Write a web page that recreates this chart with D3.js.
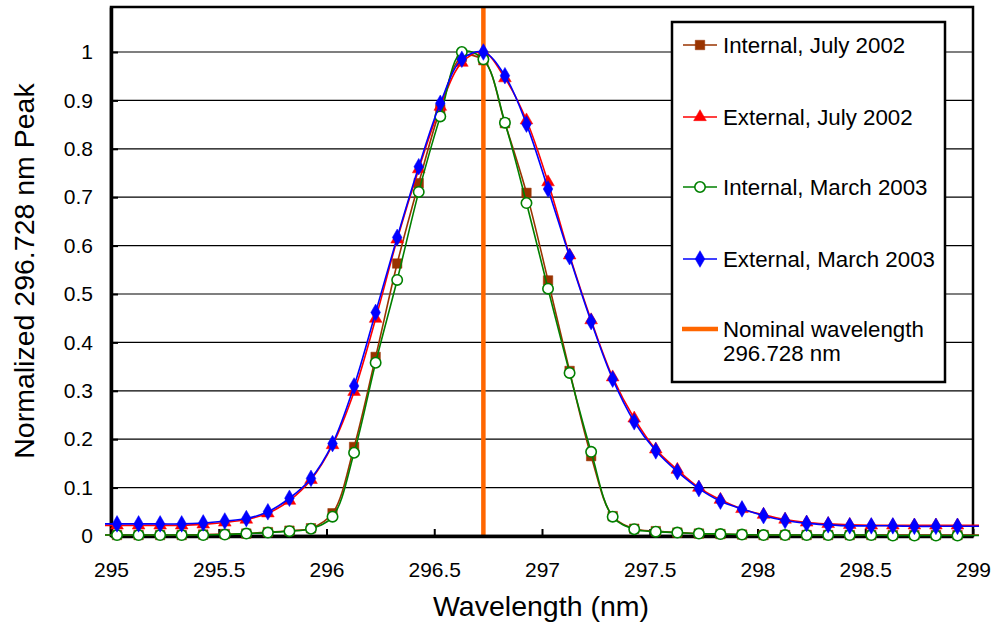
<!DOCTYPE html>
<html>
<head>
<meta charset="utf-8">
<script src="https://cdn.jsdelivr.net/npm/d3@7/dist/d3.min.js"></script>
<style>
  body { margin: 0; background: #fff; }
  text { font-family: "Liberation Sans", Arial, sans-serif; fill: #000; }
</style>
</head>
<body>
<svg id="mainsvg" width="995" height="627"></svg>
<script>
// wavelengths (nm); first and last lie just outside the axis and only carry the line to the edge
const wavelength = [294.928, 295.028, 295.128, 295.228, 295.328, 295.428, 295.528, 295.628, 295.728, 295.828,
  295.928, 296.028, 296.128, 296.228, 296.328, 296.428, 296.528, 296.628, 296.728, 296.828,
  296.928, 297.028, 297.128, 297.228, 297.328, 297.428, 297.528, 297.628, 297.728, 297.828,
  297.928, 298.028, 298.128, 298.228, 298.328, 298.428, 298.528, 298.628, 298.728, 298.828,
  298.928, 299.028]

const internalJuly2002 = [0.002, 0.002, 0.002, 0.002, 0.002, 0.003, 0.004, 0.005, 0.008, 0.011,
  0.016, 0.047, 0.184, 0.370, 0.563, 0.729, 0.882, 0.990, 0.983, 0.853,
  0.709, 0.528, 0.341, 0.165, 0.041, 0.015, 0.010, 0.007, 0.005, 0.004,
  0.003, 0.002, 0.002, 0.002, 0.002, 0.002, 0.002, 0.002, 0.002, 0.002,
  0.002, 0.002]

const externalJuly2002 = [0.022, 0.022, 0.022, 0.022, 0.022, 0.024, 0.028, 0.034, 0.047, 0.073,
  0.116, 0.188, 0.298, 0.449, 0.613, 0.758, 0.887, 0.978, 1.000, 0.946,
  0.859, 0.731, 0.580, 0.446, 0.328, 0.243, 0.179, 0.137, 0.100, 0.075,
  0.056, 0.044, 0.034, 0.028, 0.025, 0.023, 0.022, 0.022, 0.022, 0.022,
  0.022, 0.022]

const internalMarch2003 = [0.002, 0.002, 0.002, 0.002, 0.002, 0.002, 0.003, 0.005, 0.007, 0.010,
  0.015, 0.040, 0.172, 0.358, 0.529, 0.711, 0.867, 1.000, 0.985, 0.854,
  0.688, 0.511, 0.337, 0.174, 0.040, 0.014, 0.009, 0.007, 0.005, 0.004,
  0.003, 0.002, 0.002, 0.002, 0.002, 0.002, 0.002, 0.001, 0.001, 0.001,
  0.001, 0.001]

const externalMarch2003 = [0.025, 0.025, 0.025, 0.025, 0.025, 0.027, 0.031, 0.036, 0.050, 0.078,
  0.119, 0.191, 0.310, 0.462, 0.617, 0.763, 0.894, 0.985, 1.000, 0.951,
  0.851, 0.717, 0.577, 0.443, 0.324, 0.236, 0.176, 0.133, 0.098, 0.072,
  0.056, 0.042, 0.032, 0.026, 0.023, 0.021, 0.021, 0.021, 0.020, 0.020,
  0.020, 0.020]

const nominalWavelength = 296.728
const xTicks = [295, 295.5, 296, 296.5, 297, 297.5, 298, 298.5, 299]
const yTicks = [0, 0.1, 0.2, 0.3, 0.4, 0.5, 0.6, 0.7, 0.8, 0.9, 1]

const series = [
  { name: "Internal, July 2002", values: internalJuly2002, color: "#993300", symbol: d3.symbolSquare, size: 90, fill: "#993300" },
  { name: "External, July 2002", values: externalJuly2002, color: "#ff0000", symbol: d3.symbolTriangle, size: 70, fill: "#ff0000" },
  { name: "Internal, March 2003", values: internalMarch2003, color: "#008000", symbol: d3.symbolCircle, size: 85, fill: "#ffffff" },
  { name: "External, March 2003", values: externalMarch2003, color: "#0000ff", symbol: d3.symbolDiamond, size: 80, fill: "#0000ff" },
]

const svg = d3.select('#mainsvg')
const plot = { left: 111, right: 973, top: 7, bottom: 536 }

const xScale = d3.scaleLinear().domain([295, 299]).range([plot.left, plot.right])
const yScale = d3.scaleLinear().domain([0, 1.093]).range([plot.bottom, plot.top])

svg.append("clipPath").attr("id", "clip")
  .append("rect").attr("x", 105).attr("y", 0).attr("width", 876).attr("height", 560)

// horizontal grid
svg.append("g").selectAll("line").data(yTicks.filter(d => d > 0)).join("line")
  .attr("x1", plot.left).attr("x2", plot.right)
  .attr("y1", d => yScale(d)).attr("y2", d => yScale(d))
  .attr("stroke", "#000").attr("stroke-width", 1.2)

// nominal wavelength line (drawn under the series)
svg.append("line")
  .attr("x1", xScale(nominalWavelength)).attr("x2", xScale(nominalWavelength))
  .attr("y1", plot.top).attr("y2", plot.bottom)
  .attr("stroke", "#ff6600").attr("stroke-width", 4.5)

// frame
svg.append("rect").attr("x", plot.left).attr("y", plot.top)
  .attr("width", plot.right - plot.left).attr("height", plot.bottom - plot.top)
  .attr("fill", "none").attr("stroke", "#000").attr("stroke-width", 2.5)

// axes with inward ticks
const xAxis = d3.axisBottom(xScale).tickValues(xTicks).tickSizeInner(-7).tickSizeOuter(0).tickFormat(d3.format("~g"))
const gx = svg.append("g").attr("transform", `translate(0, ${plot.bottom})`).call(xAxis)
gx.select(".domain").attr("stroke-width", 3.5)
gx.selectAll(".tick line").attr("stroke-width", 2)
gx.selectAll(".tick text").attr("font-size", "21px").attr("y", 34).attr("dy", "0.35em")
  .attr("font-family", "Liberation Sans, Arial, sans-serif")

const yAxis = d3.axisLeft(yScale).tickValues(yTicks).tickSizeInner(-7).tickSizeOuter(0).tickFormat(d3.format("~g"))
const gy = svg.append("g").attr("transform", `translate(${plot.left}, 0)`).call(yAxis)
gy.select(".domain").attr("stroke-width", 3.5)
gy.selectAll(".tick line").attr("stroke-width", 2)
gy.selectAll(".tick text").attr("font-size", "21px").attr("x", -18)
  .attr("font-family", "Liberation Sans, Arial, sans-serif")

// series
const line = d3.line().curve(d3.curveCatmullRom)
  .x((d, i) => xScale(wavelength[i])).y(d => yScale(d))

const sg = svg.append("g").attr("clip-path", "url(#clip)")
series.forEach(s => {
  sg.append("path").attr("d", line(s.values))
    .attr("fill", "none").attr("stroke", s.color).attr("stroke-width", 1.6)
  sg.selectAll(null).data(s.values.map((v, i) => [wavelength[i], v]).filter(d => d[0] > 295 && d[0] < 299))
    .join("path")
    .attr("d", d3.symbol().type(s.symbol).size(s.size))
    .attr("transform", d => `translate(${xScale(d[0])}, ${yScale(d[1])})`)
    .attr("fill", s.fill).attr("stroke", s.color).attr("stroke-width", s.fill === "#ffffff" ? 1.6 : 0.5)
})

// legend
const lg = svg.append("g")
lg.append("rect").attr("x", 672).attr("y", 22).attr("width", 273).attr("height", 360)
  .attr("fill", "#fff").attr("stroke", "#000").attr("stroke-width", 2.5)
const rowY = [45, 117, 187, 259]
series.forEach((s, i) => {
  lg.append("line").attr("x1", 683).attr("x2", 717).attr("y1", rowY[i]).attr("y2", rowY[i])
    .attr("stroke", s.color).attr("stroke-width", 1.6)
  lg.append("path").attr("d", d3.symbol().type(s.symbol).size(s.size))
    .attr("transform", `translate(700, ${rowY[i]})`)
    .attr("fill", s.fill).attr("stroke", s.color).attr("stroke-width", s.fill === "#ffffff" ? 1.6 : 0.5)
  lg.append("text").text(s.name).attr("x", 723).attr("y", rowY[i]).attr("dy", "0.35em")
    .attr("font-size", "22.3px")
})
lg.append("line").attr("x1", 682).attr("x2", 718).attr("y1", 329).attr("y2", 329)
  .attr("stroke", "#ff6600").attr("stroke-width", 4.5)
lg.append("text").text("Nominal wavelength").attr("x", 723).attr("y", 329).attr("dy", "0.35em").attr("font-size", "22.3px")
lg.append("text").text("296.728 nm").attr("x", 723).attr("y", 353).attr("dy", "0.35em").attr("font-size", "22.3px")

// axis titles
svg.append("text").text("Wavelength (nm)")
  .attr("x", 541).attr("y", 616)
  .attr("text-anchor", "middle").attr("font-size", "28.5px")
svg.append("text").text("Normalized 296.728 nm Peak")
  .attr("transform", `translate(34, 271) rotate(-90)`)
  .attr("text-anchor", "middle").attr("font-size", "28.5px")
</script>
</body>
</html>
